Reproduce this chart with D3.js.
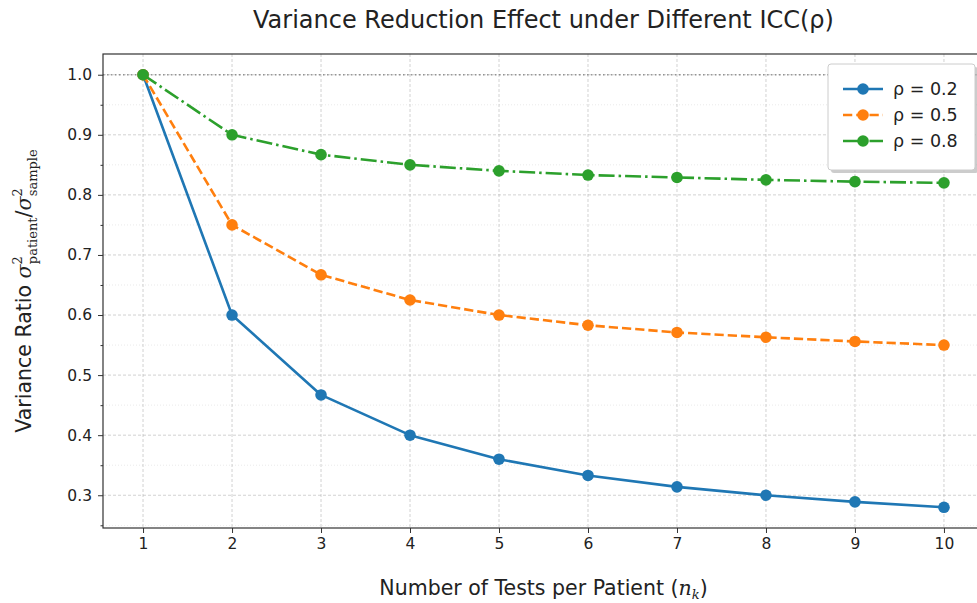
<!DOCTYPE html>
<html><head><meta charset="utf-8">
<script src="https://cdn.jsdelivr.net/npm/d3@7"></script>
<style>body{margin:0;background:#fff}svg{display:block}text{font-family:"DejaVu Sans",sans-serif;fill:#222}</style>
</head><body><svg id="c" width="977" height="603"></svg>
<script>
const nTests = [1,2,3,4,5,6,7,8,9,10];
const rho02 = [1.000,0.600,0.467,0.400,0.360,0.333,0.314,0.300,0.289,0.280];
const rho05 = [1.000,0.750,0.667,0.625,0.600,0.583,0.571,0.563,0.556,0.550];
const rho08 = [1.000,0.900,0.867,0.850,0.840,0.833,0.829,0.825,0.822,0.820];
const seriesLabels = ["ρ = 0.2","ρ = 0.5","ρ = 0.8"];
const yTicks = [0.3,0.4,0.5,0.6,0.7,0.8,0.9,1.0];
const yMinor = [0.25,0.35,0.45,0.55,0.65,0.75,0.85,0.95];

const series = [
  {label:seriesLabels[0], values:rho02, color:"#1f77b4", dash:null},
  {label:seriesLabels[1], values:rho05, color:"#ff7f0e", dash:"9.25,4"},
  {label:seriesLabels[2], values:rho08, color:"#2ca02c", dash:"16,4,2.5,4"}
];

const svg = d3.select("#c");
const L=103, R=984, T=54, B=528;
const x = d3.scaleLinear().domain([0.55,10.45]).range([L,R]);
const y = d3.scaleLinear().domain([0.2455,1.0345]).range([B,T]);

// grid
const g = svg.append("g");
g.selectAll(".gx").data(nTests).join("line")
  .attr("x1",d=>x(d)).attr("x2",d=>x(d)).attr("y1",T).attr("y2",B)
  .attr("stroke","#b0b0b0").attr("stroke-width",0.8).attr("stroke-dasharray","3,2").attr("opacity",0.7);
g.selectAll(".gy").data(yTicks).join("line")
  .attr("x1",L).attr("x2",R).attr("y1",d=>y(d)).attr("y2",d=>y(d))
  .attr("stroke","#b0b0b0").attr("stroke-width",0.8).attr("stroke-dasharray","3,2").attr("opacity",0.7);
g.selectAll(".gym").data(yMinor).join("line")
  .attr("x1",L).attr("x2",R).attr("y1",d=>y(d)).attr("y2",d=>y(d))
  .attr("stroke","#b0b0b0").attr("stroke-width",0.5).attr("stroke-dasharray","1,2").attr("opacity",0.5);

// reference line at 1.0
svg.append("line").attr("x1",L).attr("x2",R).attr("y1",y(1)).attr("y2",y(1))
  .attr("stroke","#808080").attr("stroke-width",1.5).attr("stroke-dasharray","1.5,2.5").attr("opacity",0.8);

// lines
const line = d3.line().x((d,i)=>x(nTests[i])).y(d=>y(d));
series.forEach(s=>{
  svg.append("path").attr("d",line(s.values)).attr("fill","none")
    .attr("stroke",s.color).attr("stroke-width",2.6)
    .attr("stroke-dasharray",s.dash).attr("stroke-linejoin","round");
  svg.append("g").selectAll("circle").data(s.values).join("circle")
    .attr("cx",(d,i)=>x(nTests[i])).attr("cy",d=>y(d)).attr("r",5.8).attr("fill",s.color);
});

// spines
svg.append("rect").attr("x",L).attr("y",T).attr("width",R-L).attr("height",B-T)
  .attr("fill","none").attr("stroke","#333").attr("stroke-width",1.2);

// axes
svg.append("g").attr("transform",`translate(0,${B})`)
  .call(d3.axisBottom(x).tickValues(nTests).tickFormat(d3.format("d")).tickSize(5).tickPadding(5));
svg.append("g").attr("transform",`translate(${L},0)`)
  .call(d3.axisLeft(y).tickValues(yTicks).tickFormat(d3.format(".1f")).tickSize(5).tickPadding(6));
svg.append("g").attr("transform",`translate(${L},0)`)
  .call(d3.axisLeft(y).tickValues(yMinor).tickFormat("").tickSize(2.5));
svg.selectAll(".domain").remove();
svg.selectAll(".tick line").attr("stroke","#333");
svg.selectAll(".tick text").attr("font-size",15.5).attr("fill","#222").attr("font-family","DejaVu Sans");

// title
svg.append("text").attr("x",(L+R)/2).attr("y",28).attr("text-anchor","middle")
  .attr("font-size",24).text("Variance Reduction Effect under Different ICC(ρ)");

// x label
const xl = svg.append("text").attr("x",(L+R)/2).attr("y",595).attr("text-anchor","middle").attr("font-size",20.5);
xl.append("tspan").text("Number of Tests per Patient (");
xl.append("tspan").attr("font-family","DejaVu Serif").attr("font-style","italic").text("n");
xl.append("tspan").attr("font-family","DejaVu Serif").attr("font-style","italic").attr("font-size",13).attr("dy",4).text("k");
xl.append("tspan").attr("dy",-4).text(")");

// y label
const yl = svg.append("text").attr("transform",`translate(31,${(T+B)/2}) rotate(-90)`).attr("text-anchor","middle").attr("font-size",20.5);
yl.append("tspan").text("Variance Ratio ");
yl.append("tspan").attr("font-family","DejaVu Serif").attr("font-style","italic").text("σ");
yl.append("tspan").attr("font-family","DejaVu Serif").attr("font-size",13).attr("dy",-9).text("2");
yl.append("tspan").attr("font-family","DejaVu Serif").attr("font-size",13).attr("dx",-8).attr("dy",15).text("patient");
yl.append("tspan").attr("font-family","DejaVu Sans").attr("dy",-6).text("/");
yl.append("tspan").attr("font-family","DejaVu Serif").attr("font-style","italic").text("σ");
yl.append("tspan").attr("font-family","DejaVu Serif").attr("font-size",13).attr("dy",-9).text("2");
yl.append("tspan").attr("font-family","DejaVu Serif").attr("font-size",13).attr("dx",-8).attr("dy",15).text("sample");

// legend
const lg = svg.append("g").attr("transform","translate(828,64)");
lg.append("rect").attr("x",3).attr("y",3).attr("width",147).attr("height",106).attr("rx",3).attr("fill","#999").attr("opacity",0.5);
lg.append("rect").attr("width",147).attr("height",106).attr("rx",3).attr("fill","#fff").attr("stroke","#ccc").attr("stroke-width",1);
series.forEach((s,i)=>{
  const yy = 25 + i*26;
  lg.append("line").attr("x1",15).attr("x2",55).attr("y1",yy).attr("y2",yy)
    .attr("stroke",s.color).attr("stroke-width",2.6).attr("stroke-dasharray",s.dash);
  lg.append("circle").attr("cx",35).attr("cy",yy).attr("r",5.8).attr("fill",s.color);
  lg.append("text").attr("x",65).attr("y",yy+6).attr("font-size",17.5).text(s.label);
});
</script></body></html>
